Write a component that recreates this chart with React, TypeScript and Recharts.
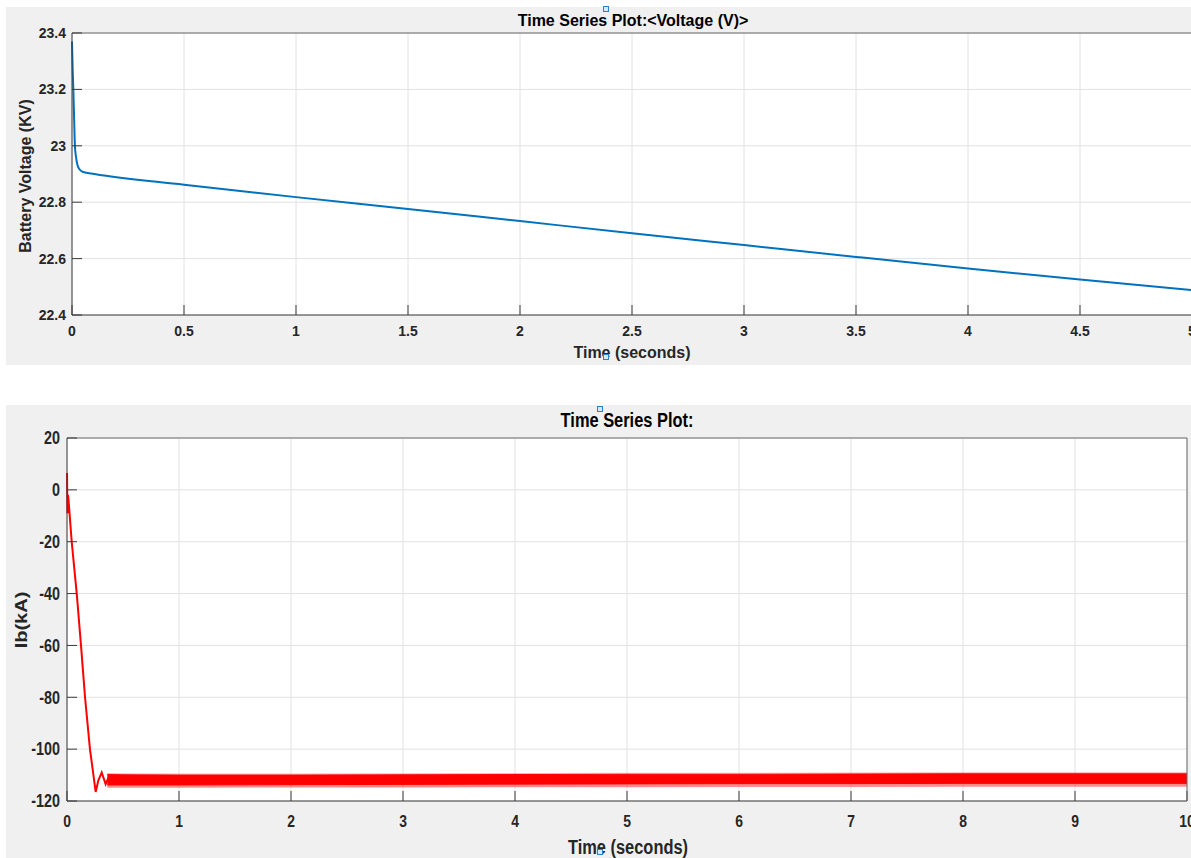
import { ComposedChart, Line, Area, XAxis, YAxis, CartesianGrid } from "recharts";

// battery voltage (top panel)
const voltTime = [0, 0.003, 0.006, 0.01, 0.013, 0.018, 0.025, 0.035, 0.05, 0.1, 0.5, 1, 1.5, 2, 2.5, 3, 3.5, 4, 4.5, 5];
const voltValue = [23.37, 23.27, 23.2, 23.08, 23.0, 22.96, 22.93, 22.915, 22.907, 22.9, 22.862, 22.818, 22.776, 22.733, 22.69, 22.648, 22.606, 22.565, 22.526, 22.488];
const voltXTicks = [0, 0.5, 1, 1.5, 2, 2.5, 3, 3.5, 4, 4.5, 5];
const voltYTicks = [22.4, 22.6, 22.8, 23, 23.2, 23.4];

// battery current, start-up transient (bottom panel)
const ibTime = [0, 0.004, 0.008, 0.012, 0.042, 0.087, 0.125, 0.161, 0.205, 0.256, 0.28, 0.31, 0.345, 0.37];
const ibValue = [6.5, -9, -2, -3, -20, -40, -60, -80, -100, -116.5, -112, -109, -113.5, -111];

// ripple band after settling: upper fringe, upper edge, lower edge, lower fringe
const bandTime = [0.36, 0.5, 1, 2, 3, 4, 5, 6, 7, 8, 9, 10];
const bandTop = [-109.2, -109.3, -109.4, -109.4, -109.3, -109.2, -109.1, -109.1, -109.0, -108.9, -108.9, -108.9];
const bandHigh = [-109.8, -109.9, -110, -110, -109.9, -109.8, -109.7, -109.7, -109.6, -109.5, -109.5, -109.5];
const bandLow = [-113.8, -113.8, -113.8, -113.7, -113.6, -113.5, -113.4, -113.3, -113.3, -113.2, -113.2, -113.2];
const bandFringe = [-114.9, -114.9, -114.9, -114.8, -114.8, -114.7, -114.7, -114.6, -114.6, -114.5, -114.5, -114.5];
const ibXTicks = [0, 1, 2, 3, 4, 5, 6, 7, 8, 9, 10];
const ibYTicks = [-120, -100, -80, -60, -40, -20, 0, 20];

const font = '"Liberation Sans", Arial, Helvetica, sans-serif';
const gridColor = "#e2e2e2";
const axisColor = "#3a3a3a";
const panelBg = "#f0f0f0";

const voltRows = voltTime.map((t, i) => ({ t, v: voltValue[i] }));
const ibRows = [
    ...ibTime.map((t, i) => ({ t, ib: ibValue[i] })),
    ...bandTime.map((t, i) => ({
        t,
        band: [bandLow[i], bandHigh[i]],
        fringe: [bandFringe[i], bandLow[i]],
        fringeTop: [bandHigh[i], bandTop[i]],
    })),
];

// bottom panel text is horizontally squeezed in the screenshot
function NarrowXTick(props: any) {
    const { x, y, payload } = props;
    return (
        <text
            transform={`translate(${x},${y}) scale(0.82,1)`}
            textAnchor="middle"
            dy="0.71em"
            fill="#262626"
            fontSize={17}
            fontWeight={700}
            fontFamily={font}
            style={{ fontWeight: 700 }}
        >
            {payload.value}
        </text>
    );
}

function NarrowYTick(props: any) {
    const { x, y, payload } = props;
    return (
        <text
            transform={`translate(${x},${y}) scale(0.82,1)`}
            textAnchor="end"
            dy="0.355em"
            fill="#262626"
            fontSize={17.5}
            fontWeight={700}
            fontFamily={font}
            style={{ fontWeight: 700 }}
        >
            {payload.value}
        </text>
    );
}

function Marker({ x, y }: { x: number; y: number }) {
    return (
        <div
            style={{
                position: "absolute",
                left: x,
                top: y,
                width: 4,
                height: 4,
                border: "1px solid #2b7fd3",
                background: "#d6e8f8",
            }}
        />
    );
}

const topTick = { fill: "#262626", fontSize: 14, fontWeight: 700, fontFamily: font, style: { fontWeight: 700 } };

export default function App() {
    return (
        <div
            style={{
                position: "absolute",
                left: 0,
                top: 0,
                width: 1191,
                height: 858,
                overflow: "hidden",
                background: "#fff",
                fontFamily: font,
            }}
        >
            {/* top panel */}
            <div style={{ position: "absolute", left: 6, top: 7, width: 1200, height: 358, background: panelBg }} />
            <div style={{ position: "absolute", left: 0, top: 0 }}>
                <ComposedChart width={1200} height={365} data={voltRows} margin={{ top: 32, right: 7, bottom: 20, left: 12 }}>
                    <CartesianGrid stroke={gridColor} fill="#fff" />
                    <XAxis
                        dataKey="t"
                        type="number"
                        domain={[0, 5]}
                        ticks={voltXTicks}
                        interval={0}
                        height={30}
                        tickSize={-10}
                        tickMargin={21}
                        axisLine={{ stroke: axisColor }}
                        tickLine={{ stroke: axisColor }}
                        tick={topTick}
                    />
                    <XAxis
                        xAxisId="top"
                        orientation="top"
                        type="number"
                        domain={[0, 5]}
                        ticks={voltXTicks}
                        interval={0}
                        height={1}
                        tickSize={-10}
                        tick={false}
                        axisLine={{ stroke: "#6a6a6a" }}
                        tickLine={{ stroke: axisColor }}
                    />
                    <YAxis
                        type="number"
                        domain={[22.4, 23.4]}
                        ticks={voltYTicks}
                        interval={0}
                        width={60}
                        tickSize={-10}
                        tickMargin={16}
                        axisLine={{ stroke: axisColor }}
                        tickLine={{ stroke: axisColor }}
                        tick={topTick}
                    />
                    <YAxis
                        yAxisId="right"
                        orientation="right"
                        type="number"
                        domain={[22.4, 23.4]}
                        ticks={voltYTicks}
                        interval={0}
                        width={1}
                        tickSize={-10}
                        tick={false}
                        axisLine={{ stroke: "#6a6a6a" }}
                        tickLine={{ stroke: axisColor }}
                    />
                    <Line
                        dataKey="v"
                        type="monotone"
                        stroke="#0072bd"
                        strokeWidth={2}
                        dot={false}
                        isAnimationActive={false}
                    />
                </ComposedChart>
            </div>
            <div style={{ position: "absolute", left: 0, width: 1266, top: 13, textAlign: "center", fontSize: 16, lineHeight: "16px", fontWeight: 700, color: "#000" }}>
                Time Series Plot:&lt;Voltage (V)&gt;
            </div>
            <div style={{ position: "absolute", left: 0, width: 1264, top: 345, textAlign: "center", fontSize: 16, lineHeight: "16px", fontWeight: 700, color: "#262626" }}>
                Time (seconds)
            </div>
            <div
                style={{
                    position: "absolute",
                    left: 26 - 150,
                    top: 176 - 8,
                    width: 300,
                    height: 16,
                    lineHeight: "16px",
                    textAlign: "center",
                    fontSize: 16,
                    fontWeight: 700,
                    color: "#262626",
                    transform: "rotate(-90deg)",
                }}
            >
                Battery Voltage (KV)
            </div>
            <Marker x={603} y={6} />
            <Marker x={603} y={354} />

            {/* bottom panel */}
            <div style={{ position: "absolute", left: 6, top: 405, width: 1200, height: 460, background: panelBg }} />
            <div style={{ position: "absolute", left: 0, top: 405 }}>
                <ComposedChart width={1200} height={453} data={ibRows} margin={{ top: 32, right: 12, bottom: 27, left: 12 }}>
                    <CartesianGrid stroke={gridColor} fill="#fff" />
                    <XAxis
                        dataKey="t"
                        type="number"
                        domain={[0, 10]}
                        ticks={ibXTicks}
                        interval={0}
                        height={30}
                        tickSize={-10}
                        tickMargin={24}
                        axisLine={{ stroke: axisColor }}
                        tickLine={{ stroke: axisColor }}
                        tick={<NarrowXTick />}
                    />
                    <XAxis
                        xAxisId="top"
                        orientation="top"
                        type="number"
                        domain={[0, 10]}
                        ticks={ibXTicks}
                        interval={0}
                        height={1}
                        tickSize={-10}
                        tick={false}
                        axisLine={{ stroke: "#6a6a6a" }}
                        tickLine={{ stroke: axisColor }}
                    />
                    <YAxis
                        type="number"
                        domain={[-120, 20]}
                        ticks={ibYTicks}
                        interval={0}
                        width={55}
                        tickSize={-10}
                        tickMargin={17}
                        axisLine={{ stroke: axisColor }}
                        tickLine={{ stroke: axisColor }}
                        tick={<NarrowYTick />}
                    />
                    <YAxis
                        yAxisId="right"
                        orientation="right"
                        type="number"
                        domain={[-120, 20]}
                        ticks={ibYTicks}
                        interval={0}
                        width={1}
                        tickSize={-10}
                        tick={false}
                        axisLine={{ stroke: "#6a6a6a" }}
                        tickLine={{ stroke: axisColor }}
                    />
                    <Area
                        dataKey="fringe"
                        type="linear"
                        stroke="none"
                        fill="#ff0000"
                        fillOpacity={0.45}
                        isAnimationActive={false}
                    />
                    <Area
                        dataKey="fringeTop"
                        type="linear"
                        stroke="none"
                        fill="#ff0000"
                        fillOpacity={0.3}
                        isAnimationActive={false}
                    />
                    <Area
                        dataKey="band"
                        type="linear"
                        stroke="#ff0000"
                        strokeWidth={1}
                        fill="#ff0000"
                        fillOpacity={1}
                        isAnimationActive={false}
                    />
                    <Line
                        dataKey="ib"
                        type="linear"
                        stroke="#ff0000"
                        strokeWidth={2}
                        dot={false}
                        isAnimationActive={false}
                    />
                </ComposedChart>
            </div>
            <div
                style={{
                    position: "absolute",
                    left: 0,
                    width: 1254,
                    top: 410,
                    textAlign: "center",
                    fontSize: 20,
                    lineHeight: "20px",
                    fontWeight: 700,
                    color: "#000",
                    transform: "scaleX(0.82)",
                    transformOrigin: "627px 0",
                }}
            >
                Time Series Plot:
            </div>
            <div
                style={{
                    position: "absolute",
                    left: 0,
                    width: 1256,
                    top: 837,
                    textAlign: "center",
                    fontSize: 20,
                    lineHeight: "20px",
                    fontWeight: 700,
                    color: "#262626",
                    transform: "scaleX(0.82)",
                    transformOrigin: "628px 0",
                }}
            >
                Time (seconds)
            </div>
            <div
                style={{
                    position: "absolute",
                    left: 21 - 100,
                    top: 620 - 10,
                    width: 200,
                    height: 20,
                    lineHeight: "20px",
                    textAlign: "center",
                    fontSize: 20,
                    fontWeight: 700,
                    color: "#262626",
                    transform: "rotate(-90deg) scaleY(0.82)",
                }}
            >
                Ib(kA)
            </div>
            <Marker x={597} y={406} />
            <Marker x={597} y={849} />
        </div>
    );
}
